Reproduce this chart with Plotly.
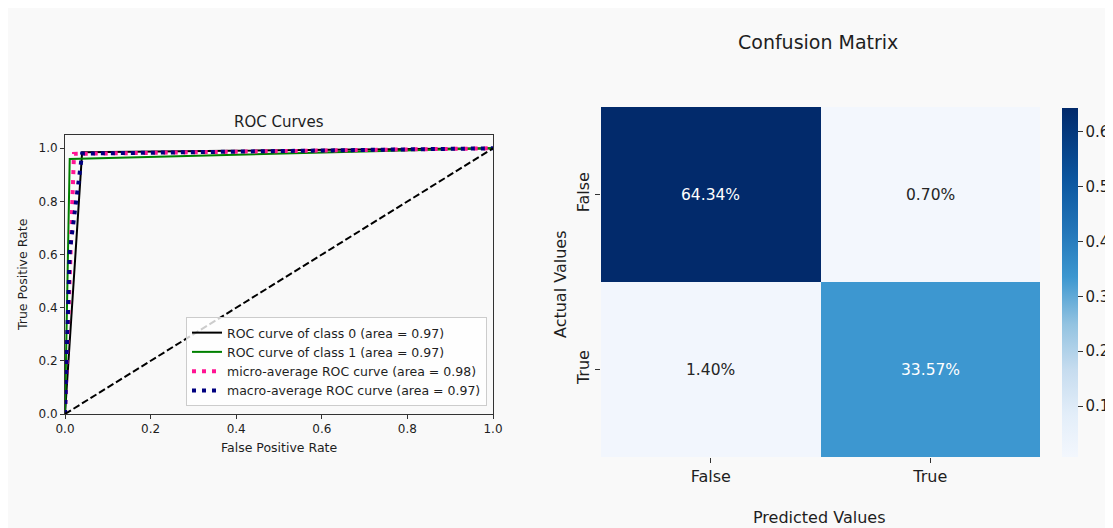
import plotly.graph_objects as go

# ---- data ----
fpr_class0 = [0.0, 0.040, 1.0]
tpr_class0 = [0.0, 0.985, 1.0]
fpr_class1 = [0.0, 0.011, 1.0]
tpr_class1 = [0.0, 0.960, 1.0]
fpr_micro = [0.0, 0.021, 1.0]
tpr_micro = [0.0, 0.979, 1.0]
fpr_macro = [0.0, 0.011, 0.040, 1.0]
tpr_macro = [0.0, 0.610, 0.980, 1.0]
diag_x = [0.0, 1.0]
diag_y = [0.0, 1.0]
roc_names = ["ROC curve of class 0 (area = 0.97)",
             "ROC curve of class 1 (area = 0.97)",
             "micro-average ROC curve (area = 0.98)",
             "macro-average ROC curve (area = 0.97)"]
roc_ticks = [0.0, 0.2, 0.4, 0.6, 0.8, 1.0]

cm_labels = ["False", "True"]
cm_values = [[0.6434, 0.0070],
             [0.0140, 0.3357]]
cm_text = [["64.34%", "0.70%"],
           ["1.40%", "33.57%"]]
cb_ticks = [0.1, 0.2, 0.3, 0.4, 0.5, 0.6]

W, H = 1113, 528
OFF = 8  # page body margin
BG = "#f9f9f9"
FONT = "DejaVu Sans"
TXT = "#1e1e1e"


def px_x(p):
    return (p - OFF) / W


def px_y(p):
    return 1 - (p - OFF) / H


blues = [
    [0.0, "#f3f7fd"],
    [0.12, "#e3eef9"],
    [0.25, "#c6dcef"],
    [0.38, "#93c3e1"],
    [0.516, "#3d97d0"],
    [0.65, "#2275b8"],
    [0.8, "#0b559e"],
    [1.0, "#022a6b"],
]

fig = go.Figure()

fig.add_trace(go.Scatter(x=fpr_class0, y=tpr_class0, mode="lines", name=roc_names[0],
                         line=dict(color="black", width=2), xaxis="x", yaxis="y"))
fig.add_trace(go.Scatter(x=fpr_class1, y=tpr_class1, mode="lines", name=roc_names[1],
                         line=dict(color="green", width=2), xaxis="x", yaxis="y"))
fig.add_trace(go.Scatter(x=fpr_micro, y=tpr_micro, mode="lines", name=roc_names[2],
                         line=dict(color="deeppink", width=4, dash="4px,6px"), xaxis="x", yaxis="y"))
fig.add_trace(go.Scatter(x=fpr_macro, y=tpr_macro, mode="lines", name=roc_names[3],
                         line=dict(color="navy", width=4, dash="4px,6px"), xaxis="x", yaxis="y"))
fig.add_trace(go.Scatter(x=diag_x, y=diag_y, mode="lines", showlegend=False,
                         line=dict(color="black", width=2, dash="7px,3px"), xaxis="x", yaxis="y"))

fig.add_trace(go.Heatmap(
    z=cm_values, x=cm_labels, y=cm_labels, colorscale=blues, showscale=True,
    xaxis="x2", yaxis="y2", hoverinfo="skip",
    colorbar=dict(x=px_x(1062), xanchor="left", thickness=16, lenmode="pixels", len=349,
                  y=px_y(457), yanchor="bottom", tickvals=cb_ticks, ticks="outside",
                  ticklen=5, tickcolor="#333", tickfont=dict(size=15, family=FONT, color=TXT),
                  outlinewidth=0, xpad=0, ypad=0),
))

axis_common = dict(showgrid=False, zeroline=False, showline=True, linecolor="#333", linewidth=1,
                   mirror=True, ticks="outside", ticklen=4, tickcolor="#333", automargin=False,
                   tickfont=dict(size=12, family=FONT, color=TXT))


def label(text, x, y, size, angle=0):
    return dict(text=text, x=px_x(x), y=px_y(y), xref="paper", yref="paper",
                xanchor="center", yanchor="middle", showarrow=False, textangle=angle,
                font=dict(size=size, family=FONT, color=TXT))


annotations = [
    label("ROC Curves", 279, 122, 15),
    label("False Positive Rate", 279, 447, 12.5),
    label("True Positive Rate", 22, 275, 12.5, -90),
    label("Confusion Matrix", 818, 42, 19),
    label("Predicted Values", 819, 517, 16),
    label("Actual Values", 560, 285, 16, -90),
]
vmax = max(max(r) for r in cm_values)
for i, row_label in enumerate(cm_labels):
    for j, col_label in enumerate(cm_labels):
        val = cm_values[i][j]
        annotations.append(dict(
            text=cm_text[i][j], x=col_label, y=row_label, xref="x2", yref="y2",
            showarrow=False,
            font=dict(size=15.5, family=FONT, color="white" if val > vmax * 0.4 else "#262626")))

fig.update_layout(
    width=W, height=H, paper_bgcolor=BG, plot_bgcolor=BG,
    margin=dict(l=0, r=0, t=0, b=0, autoexpand=False),
    font=dict(family=FONT, color=TXT),
    xaxis=dict(domain=[px_x(65), px_x(493)], range=[0, 1], tickvals=roc_ticks,
               tickformat=".1f", anchor="y", **axis_common),
    yaxis=dict(domain=[px_y(414), px_y(135)], range=[0, 1.05], tickvals=roc_ticks,
               tickformat=".1f", anchor="x", **axis_common),
    xaxis2=dict(domain=[px_x(601), px_x(1040)], anchor="y2", showgrid=False, zeroline=False,
                showline=False, ticks="outside", ticklen=5, tickcolor="#333", automargin=False,
                tickfont=dict(size=16, family=FONT, color=TXT)),
    yaxis2=dict(domain=[px_y(457), px_y(107)], anchor="x2", autorange="reversed", showgrid=False,
                zeroline=False, showline=False, ticks="outside", ticklen=5, tickcolor="#333",
                automargin=False, tickangle=-90, tickfont=dict(size=16, family=FONT, color=TXT)),
    legend=dict(x=px_x(487), xanchor="right", y=px_y(406), yanchor="bottom",
                bgcolor="rgba(255,255,255,0.8)", bordercolor="#cccccc", borderwidth=1,
                font=dict(size=12.5, family=FONT, color=TXT), tracegroupgap=0,
                itemwidth=30),
    annotations=annotations,
)

fig.write_html("out.html")
